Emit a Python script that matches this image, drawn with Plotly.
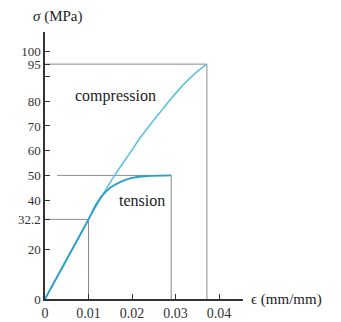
import plotly.graph_objects as go

# Data
tension_strain = [0, 0.01, 0.0115, 0.013, 0.015, 0.0175, 0.02, 0.0235, 0.029]
tension_stress = [0, 32.2, 37.5, 41.5, 45, 47.5, 49, 49.7, 50]
compression_strain = [0, 0.01, 0.016, 0.0195, 0.022, 0.0271, 0.0317, 0.0345, 0.0372]
compression_stress = [0, 32.2, 50, 59, 65.5, 77, 86.5, 91.3, 95]

# Marked reference levels: (strain, stress)
proportional_limit = (0.01, 32.2)
tension_max = (0.029, 50)
compression_max = (0.0372, 95)

y_tick_vals = [0, 20, 32.2, 40, 50, 60, 70, 80, 90, 95, 100]
y_tick_text = ["0", "20", "32.2", "40", "50", "60", "70", "80", "", "95", "100"]
x_tick_vals = [0, 0.01, 0.02, 0.03, 0.04]
x_tick_text = ["0", "0.01", "0.02", "0.03", "0.04"]

FONT = "Liberation Serif"
GRAY = "#8a8a8a"

fig = go.Figure()

# guide lines
for (sx, sy), x0 in [(compression_max, 0), (tension_max, 0.0028), (proportional_limit, 0)]:
    fig.add_trace(go.Scatter(x=[x0, sx, sx], y=[sy, sy, 0], mode="lines",
                             line=dict(color=GRAY, width=1), hoverinfo="skip",
                             showlegend=False))

fig.add_trace(go.Scatter(x=compression_strain, y=compression_stress, mode="lines",
                         line=dict(color="#5cc3dc", width=1.6, shape="spline", smoothing=1.0),
                         showlegend=False))
fig.add_trace(go.Scatter(x=tension_strain, y=tension_stress, mode="lines",
                         line=dict(color="#2b9fca", width=1.8, shape="spline"),
                         showlegend=False))

fig.add_annotation(x=0.0162, y=82, text="compression", showarrow=False,
                   font=dict(family=FONT, size=16, color="#222"))
fig.add_annotation(x=0.0222, y=40, text="tension", showarrow=False,
                   font=dict(family=FONT, size=16, color="#222"))
fig.add_annotation(xref="paper", yref="paper", x=1.03, y=0, xanchor="left",
                   yanchor="middle", text="ϵ (mm/mm)", showarrow=False,
                   font=dict(family=FONT, size=15, color="#222"))
fig.add_annotation(xref="paper", yref="paper", x=0.065, y=1.0, yshift=5,
                   xanchor="center", yanchor="bottom", text="<i>σ</i> (MPa)",
                   showarrow=False, font=dict(family=FONT, size=15, color="#222"))

fig.update_xaxes(range=[0, 0.0455], tickvals=x_tick_vals, ticktext=x_tick_text,
                 ticks="inside", ticklen=5, tickcolor="#333", showgrid=False,
                 zeroline=False, showline=True, linecolor="#333", linewidth=1.5,
                 automargin=False,
                 tickfont=dict(family=FONT, size=14, color="#333"))
fig.update_yaxes(range=[0, 108], tickvals=y_tick_vals, ticktext=y_tick_text,
                 ticks="inside", ticklen=5, tickcolor="#333", showgrid=False,
                 zeroline=False, showline=True, linecolor="#333", linewidth=1.5,
                 automargin=False,
                 tickfont=dict(family=FONT, size=13, color="#333"))

fig.update_layout(width=341, height=322, margin=dict(l=45, r=98, t=32, b=23),
                  plot_bgcolor="white", paper_bgcolor="white")

fig.write_html("out.html", config={"displayModeBar": False},
               post_script="document.body.style.margin='0';document.body.style.overflow='hidden';")
